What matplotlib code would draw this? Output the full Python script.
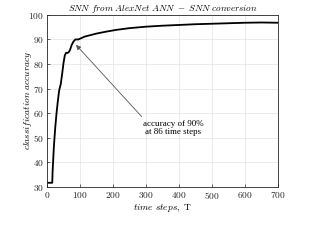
import matplotlib
matplotlib.use("Agg")
import matplotlib.pyplot as plt

plt.rcParams['font.family'] = 'serif'
plt.rcParams['font.serif'] = ['cmr10', 'DejaVu Serif']
plt.rcParams['mathtext.fontset'] = 'cm'
plt.rcParams['axes.formatter.use_mathtext'] = True

steps = [0, 16, 17, 21, 25, 29, 33, 37, 42, 46, 50, 54, 58, 62, 66, 70, 75, 80, 86,
         95, 105, 115, 130, 150, 180, 210, 250, 300, 350, 400, 450, 500, 550, 600, 650, 700]
accuracy = [31.7, 31.7, 36, 46.5, 54, 60, 65, 69.3, 72, 76, 80.3, 83.5, 84.6, 84.5, 84.8,
            85.8, 87.8, 89.1, 90.0, 90.0, 90.6, 91.2, 91.7, 92.4, 93.2, 93.9, 94.6, 95.2,
            95.6, 95.9, 96.2, 96.4, 96.6, 96.8, 96.9, 96.8]
xticks = [0, 100, 200, 300, 400, 500, 600, 700]
yticks = [30, 40, 50, 60, 70, 80, 90, 100]

fig = plt.figure(figsize=(3.11, 2.40), dpi=100)
ax = fig.add_axes([0.151, 0.221, 0.743, 0.717])
ax.plot(steps, accuracy, color='black', lw=1.3)
ax.set_xlim(0, 700)
ax.set_ylim(30, 100)
ax.set_xticks(xticks)
ax.set_yticks(yticks)
ax.tick_params(direction='in', length=2.5, width=0.5, labelsize=6.8, colors='#262626', pad=2)
ax.grid(True, color='#e3e3e3', lw=0.5)
ax.set_axisbelow(True)
for s in ax.spines.values():
    s.set_color('#262626')
    s.set_linewidth(0.6)

ax.set_title(r'$\mathit{SNN\ from\ AlexNet\ ANN\ -\ SNN\ conversion}$', fontsize=6.6, pad=3)
ax.set_xlabel(r'$\mathit{time\ steps,}\ \mathrm{T}$', fontsize=6.8)
ax.set_ylabel(r'$\mathit{classification\ accuracy}$', fontsize=6.8)
ax.xaxis.set_label_coords(0.5, -0.085)
ax.yaxis.set_label_coords(-0.058, 0.5)

ax.annotate('', xy=(88, 87.8), xytext=(287, 58.6),
            arrowprops=dict(arrowstyle='-|>', color='#555555', lw=0.6,
                            shrinkA=0, shrinkB=0, mutation_scale=7))
ax.text(383, 54, 'accuracy of 90%\nat 86 time steps', ha='center', va='center',
        fontsize=6.5, family='Liberation Serif', linespacing=1.15)

fig.savefig('out.png', dpi=100)
